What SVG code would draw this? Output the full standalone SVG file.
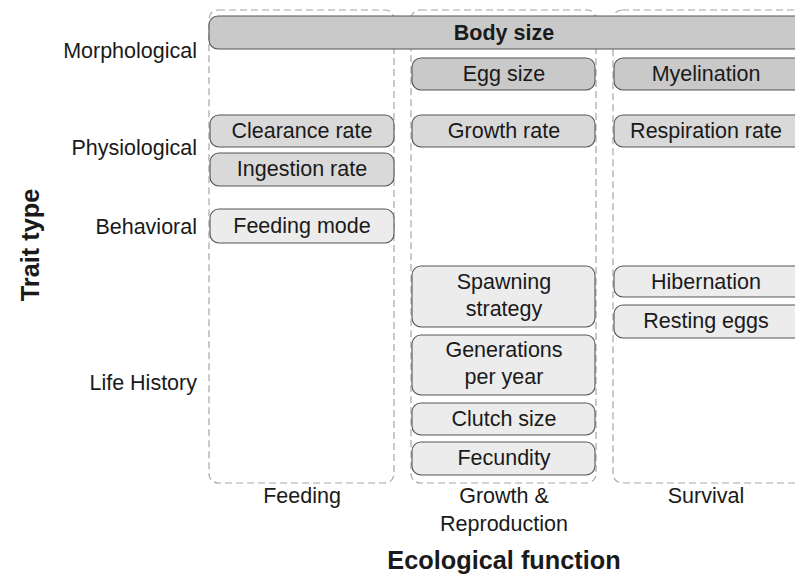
<svg xmlns="http://www.w3.org/2000/svg" width="795" height="575" viewBox="0 0 795 575">
  <style>
    text { font-family: "Liberation Sans", Arial, sans-serif; fill: #1a1a1a; }
    .lab { font-size: 21.5px; text-anchor: middle; }
    .row { font-size: 21.5px; text-anchor: end; }
    .title { font-size: 25.3px; font-weight: bold; text-anchor: middle; }
    .panel { fill: none; stroke: #a6a6a6; stroke-width: 1.2; stroke-dasharray: 7 4; }
    .node rect { stroke: #555555; stroke-width: 1.1; }
    .morph rect { fill: #c9c9c9; }
    .phys rect { fill: #d9d9d9; }
    .life rect { fill: #ececec; }
  </style>
  <rect width="795" height="575" fill="#ffffff"/>

  <!-- ecological function panels -->
  <g id="panels">
    <rect class="panel" x="209" y="10" width="185" height="473" rx="9"/>
    <rect class="panel" x="411" y="10" width="185" height="473" rx="9"/>
    <rect class="panel" x="613" y="10" width="193" height="473" rx="9"/>
  </g>

  <!-- connectors (none drawn) -->
  <g id="connectors"/>

  <!-- morphological traits -->
  <g id="body-size" class="node morph">
    <rect x="209" y="16" width="600" height="33" rx="9"/>
    <text x="504" y="39.5" class="lab" font-weight="bold" font-size="22px">Body size</text>
  </g>
  <g id="egg-size" class="node morph">
    <rect x="412" y="58" width="183" height="32" rx="9"/>
    <text x="504" y="81" class="lab">Egg size</text>
  </g>
  <g id="myelination" class="node morph">
    <rect x="614" y="58" width="190" height="32" rx="9"/>
    <text x="706" y="81" class="lab">Myelination</text>
  </g>

  <!-- physiological traits -->
  <g id="clearance-rate" class="node phys">
    <rect x="210" y="115" width="184" height="32" rx="9"/>
    <text x="302" y="138" class="lab">Clearance rate</text>
  </g>
  <g id="ingestion-rate" class="node phys">
    <rect x="210" y="153" width="184" height="33" rx="9"/>
    <text x="302" y="176" class="lab">Ingestion rate</text>
  </g>
  <g id="growth-rate" class="node phys">
    <rect x="412" y="115" width="183" height="32" rx="9"/>
    <text x="504" y="138" class="lab">Growth rate</text>
  </g>
  <g id="respiration-rate" class="node phys">
    <rect x="614" y="115" width="190" height="32" rx="9"/>
    <text x="706" y="138" class="lab">Respiration rate</text>
  </g>

  <!-- behavioral traits -->
  <g id="feeding-mode" class="node life">
    <rect x="210" y="209" width="184" height="34" rx="9"/>
    <text x="302" y="233" class="lab">Feeding mode</text>
  </g>

  <!-- life history traits -->
  <g id="spawning-strategy" class="node life">
    <rect x="412" y="266" width="183" height="61" rx="9"/>
    <text x="504" y="289" class="lab">Spawning</text>
    <text x="504" y="316" class="lab">strategy</text>
  </g>
  <g id="generations-per-year" class="node life">
    <rect x="412" y="335" width="183" height="60" rx="9"/>
    <text x="504" y="357" class="lab">Generations</text>
    <text x="504" y="384" class="lab">per year</text>
  </g>
  <g id="clutch-size" class="node life">
    <rect x="412" y="403" width="183" height="32" rx="9"/>
    <text x="504" y="426" class="lab">Clutch size</text>
  </g>
  <g id="fecundity" class="node life">
    <rect x="412" y="442" width="183" height="33" rx="9"/>
    <text x="504" y="465" class="lab">Fecundity</text>
  </g>
  <g id="hibernation" class="node life">
    <rect x="614" y="266" width="190" height="31" rx="9"/>
    <text x="706" y="289" class="lab">Hibernation</text>
  </g>
  <g id="resting-eggs" class="node life">
    <rect x="614" y="305" width="190" height="33" rx="9"/>
    <text x="706" y="328" class="lab">Resting eggs</text>
  </g>

  <!-- trait type row labels -->
  <g id="row-labels">
    <text x="197" y="58" class="row">Morphological</text>
    <text x="197" y="155" class="row">Physiological</text>
    <text x="197" y="234" class="row">Behavioral</text>
    <text x="197" y="390" class="row">Life History</text>
  </g>

  <!-- function column labels -->
  <g id="column-labels">
    <text x="302" y="503" class="lab">Feeding</text>
    <text x="504" y="503" class="lab">Growth &amp;</text>
    <text x="504" y="531" class="lab">Reproduction</text>
    <text x="706" y="503" class="lab">Survival</text>
  </g>

  <!-- axis titles -->
  <text x="504" y="569" class="title">Ecological function</text>
  <text transform="translate(30 245) rotate(-90)" class="title" dy="9">Trait type</text>
</svg>
